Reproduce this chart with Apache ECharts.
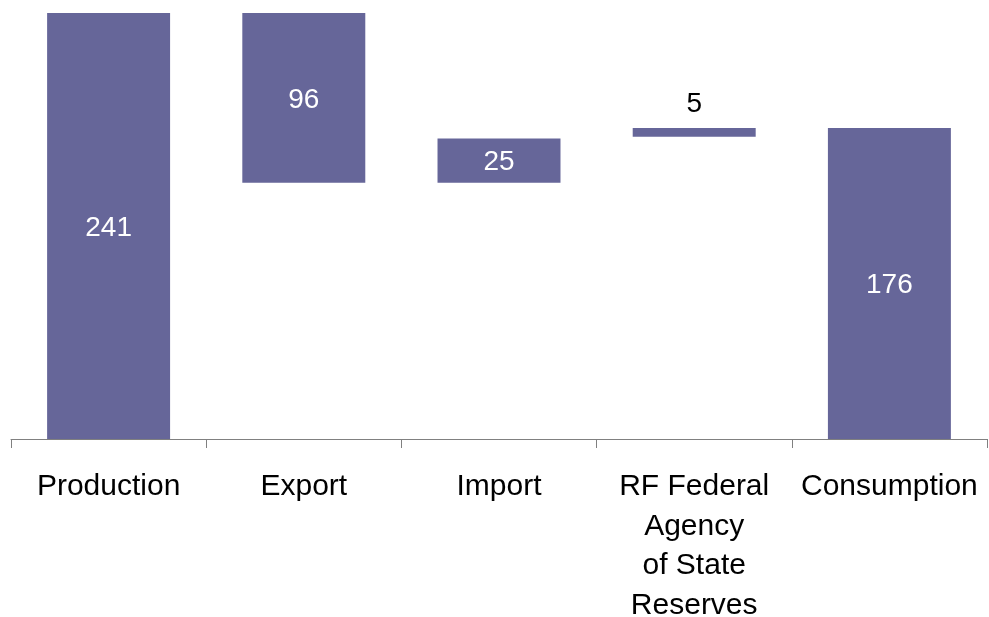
<!DOCTYPE html>
<html><head><meta charset="utf-8">
<script src="https://cdn.jsdelivr.net/npm/echarts@6/dist/echarts.min.js"></script>
<style>html,body{margin:0;padding:0;background:#fff}#c{width:989px;height:617px}</style>
</head><body><div id="c"></div>
<script>
const categories = ['Production', 'Export', 'Import', 'RF Federal\nAgency\nof State\nReserves', 'Consumption'];
const production = 241;
const exportVal = 96;
const importVal = 25;
const reserves = 5;
const consumption = 176;

const values = [production, exportVal, importVal, reserves, consumption];
const bases = [0, production - exportVal, production - exportVal, consumption - reserves, 0];

const chart = echarts.init(document.getElementById('c'), null, {renderer: 'canvas'});
const font = '"Liberation Sans", Arial, sans-serif';
chart.setOption({
  animation: false,
  grid: {left: 11, right: 2, top: 13, bottom: 178, containLabel: false, outerBoundsMode: 'none'},
  xAxis: {
    type: 'category', data: categories,
    axisLine: {lineStyle: {color: '#808080', width: 1}},
    axisTick: {show: true, length: 9, lineStyle: {color: '#808080'}},
    axisLabel: {color: '#000', fontSize: 30, fontFamily: font, lineHeight: 39.5, margin: 28, interval: 0, hideOverlap: false}
  },
  yAxis: {type: 'value', min: 0, max: 241, show: false, splitLine: {show: false}},
  series: [
    {type: 'bar', stack: 'w', data: bases, itemStyle: {color: 'transparent'}, barCategoryGap: '37%', silent: true},
    {type: 'bar', stack: 'w', data: values.map((v, i) => ({
        value: v,
        label: i === 3 ? {position: 'top', color: '#000', distance: 10, offset: [0, 0]} : {}
      })),
      itemStyle: {color: '#666699'},
      label: {show: true, position: 'inside', color: '#fff', fontSize: 28, fontFamily: font, offset: [0, 2]}
    }
  ]
});
</script></body></html>
